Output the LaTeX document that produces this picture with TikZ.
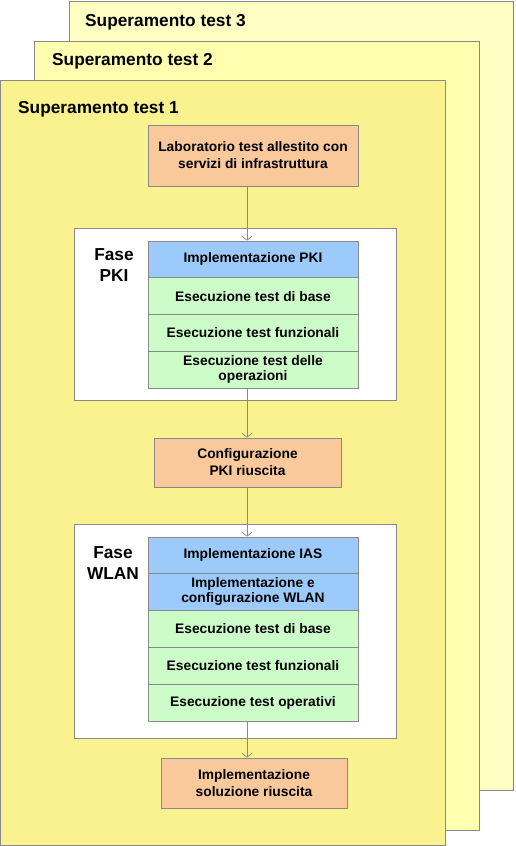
\documentclass[tikz,border=0pt]{standalone}
\usepackage{fontspec}
\setmainfont{Liberation Sans}
\usetikzlibrary{arrows.meta}
\definecolor{pageone}{HTML}{F9F28E}
\definecolor{pagetwo}{HTML}{FFFFB0}
\definecolor{pagethree}{HTML}{FFFFC4}
\definecolor{peach}{HTML}{F9C99B}
\definecolor{bluerow}{HTML}{9CCBFB}
\definecolor{greenrow}{HTML}{CCFDC9}
\definecolor{edge}{HTML}{8A8A8A}
\tikzset{
  pagebox/.style={draw=edge, line width=0.9pt},
  panelbox/.style={draw=edge, fill=white, line width=0.9pt},
  pagetitle/.style={font=\fontsize{17.3}{21}\selectfont\bfseries, inner sep=0pt, anchor=base west},
  phase/.style={font=\fontsize{17.3}{21}\selectfont\bfseries, inner sep=0pt, align=center},
  rowbox/.style={draw=edge, line width=0.8pt, minimum width=210pt, minimum height=36.75pt, inner sep=1pt, align=center, font=\fontsize{13.8}{15.5}\selectfont\bfseries},
  milestone/.style={draw=edge, line width=0.8pt, fill=peach, inner sep=1pt, align=center, font=\fontsize{13.8}{17}\selectfont\bfseries},
  flow/.style={draw=edge, line width=0.7pt, -{Straight Barb[length=4pt,width=10pt]}}
}
\begin{document}
\begin{tikzpicture}[x=1pt,y=-1pt]
\useasboundingbox (0,0) rectangle (515,846);
% stacked pages
\draw[pagebox, fill=pagethree] (69,1) rectangle (513,790);
\draw[pagebox, fill=pagetwo] (34,41) rectangle (479,830);
\draw[pagebox, fill=pageone] (0.5,80) rectangle (445,845.5);
\node[pagetitle] (t3) at (85,26) {Superamento test 3};
\node[pagetitle] (t2) at (52,65) {Superamento test 2};
\node[pagetitle] (t1) at (18,113) {Superamento test 1};
% panels
\draw[panelbox] (74,228) rectangle (396,400);
\draw[panelbox] (74,524) rectangle (396,738);
\node[phase] (fpki) at (114,265) {Fase\\PKI};
\node[phase] (fwlan) at (113,563) {Fase\\WLAN};
% milestones
\node[milestone, minimum width=210pt, minimum height=61pt] (lab) at (253,155.5) {Laboratorio test allestito con\\servizi di infrastruttura};
\node[milestone, minimum width=187pt, minimum height=49pt] (conf) at (247.5,462.5) {Configurazione\\PKI riuscita};
\node[milestone, minimum width=186pt, minimum height=50pt] (fin) at (254,783) {Implementazione\\soluzione riuscita};
% PKI stack
\node[rowbox, fill=bluerow] (p1) at (253,259.375) {Implementazione PKI};
\node[rowbox, fill=greenrow] (p2) at (253,296.125) {Esecuzione test di base};
\node[rowbox, fill=greenrow] (p3) at (253,332.875) {Esecuzione test funzionali};
\node[rowbox, fill=greenrow] (p4) at (253,369.625) {Esecuzione test delle\\operazioni};
% WLAN stack
\node[rowbox, fill=bluerow, minimum height=36pt] (w1) at (253,555) {Implementazione IAS};
\node[rowbox, fill=bluerow, minimum height=37pt] (w2) at (253,591.5) {Implementazione e\\configurazione WLAN};
\node[rowbox, fill=greenrow, minimum height=37pt] (w3) at (253,628.5) {Esecuzione test di base};
\node[rowbox, fill=greenrow, minimum height=37pt] (w4) at (253,665.5) {Esecuzione test funzionali};
\node[rowbox, fill=greenrow, minimum height=37pt] (w5) at (253,702.5) {Esecuzione test operativi};
% connectors
\coordinate (ax) at (247,0);
\draw[flow] (lab.south -| ax) -- (p1.north -| ax);
\draw[flow] (p4.south -| ax) -- (conf.north -| ax);
\draw[flow] (conf.south -| ax) -- (w1.north -| ax);
\draw[flow] (w5.south -| ax) -- (fin.north -| ax);
\end{tikzpicture}
\end{document}
